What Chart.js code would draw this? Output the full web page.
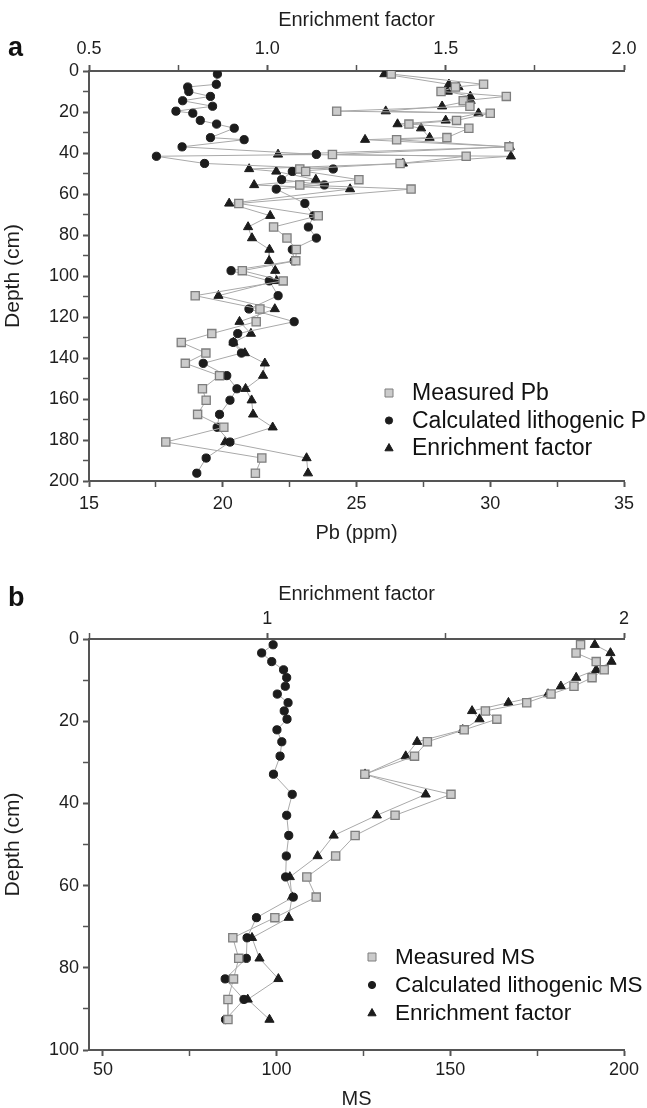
<!DOCTYPE html>
<html>
<head>
<meta charset="utf-8">
<title>Pb and MS depth profiles</title>
<script src="https://cdn.jsdelivr.net/npm/chart.js@4.4.1/dist/chart.umd.min.js"></script>
<style>
  html, body { margin: 0; padding: 0; background: #fff; }
  #wrap { position: relative; width: 647px; height: 1108px; overflow: hidden; }
  #wrap canvas { position: absolute; left: 0; }
  #chartA { top: 0; }
  #chartB { top: 554px; }
  .panel {
    position: absolute; left: 8px;
    font: bold 27px "Liberation Sans", Arial, sans-serif;
    line-height: 27px; color: #111;
  }
</style>
</head>
<body>
<div id="wrap">
  <canvas id="chartA" width="647" height="554"></canvas>
  <canvas id="chartB" width="647" height="557"></canvas>
  <div class="panel" style="top:34px">a</div>
  <div class="panel" style="top:584px">b</div>
</div>
<script>
// ---- Panel a: Pb (ppm) vs depth ----
const depthA = [1.5, 6.5, 7.8, 10, 12.4, 14.5, 17.2, 19.6, 20.6, 24.1, 25.9, 27.9, 32.5, 33.5, 37,
  40.7, 41.6, 45.1, 47.8, 49, 53, 55.6, 57.6, 64.6, 70.6, 76.1, 81.5, 87.1, 92.6, 97.4,
  102.4, 109.6, 116.1, 122.3, 128.1, 132.4, 137.6, 142.6, 148.6, 155, 160.6, 167.5, 173.8, 181, 188.8, 196.2];
const pbMeasured = [26.3, 29.75, 28.7, 28.16, 30.6, 28.99, 29.24, 24.26, 30.0, 28.74, 26.96, 29.2, 28.38, 26.5, 30.7,
  24.1, 29.1, 26.63, 22.88, 23.1, 25.09, 22.88, 27.04, 20.6, 23.57, 21.9, 22.4, 22.75, 22.73, 20.73,
  22.26, 18.97, 21.39, 21.25, 19.59, 18.45, 19.37, 18.6, 19.88, 19.24, 19.38, 19.06, 20.04, 17.87, 21.46, 21.22];
const pbLitho = [19.8, 19.76, 18.69, 18.73, 19.54, 18.5, 19.62, 18.25, 18.88, 19.16, 19.77, 20.43, 19.54, 20.8, 18.48,
  23.5, 17.52, 19.32, 24.13, 22.6, 22.2, 23.8, 22.0, 23.07, 23.4, 23.2, 23.5, 22.6, 22.67, 20.31,
  21.74, 22.07, 20.98, 22.67, 20.56, 20.39, 20.7, 19.27, 20.15, 20.53, 20.27, 19.88, 19.79, 20.27, 19.38, 19.03];
const pbEF = [1.328, 1.509, 1.536, 1.506, 1.569, 1.570, 1.490, 1.332, 1.592, 1.50, 1.365, 1.431, 1.455, 1.274, 1.68,
  1.03, 1.683, 1.38, 0.949, 1.025, 1.136, 0.963, 1.232, 0.893, 1.008, 0.946, 0.957, 1.006, 1.005, 1.022,
  1.026, 0.863, 1.021, 0.922, 0.954, 0.905, 0.937, 0.993, 0.988, 0.939, 0.956, 0.96, 1.015, 0.882, 1.11, 1.114];
const labelsA = ["Measured Pb", "Calculated lithogenic Pb", "Enrichment factor"];

// ---- Panel b: MS vs depth ----
const depthB = [1.4, 3.4, 5.5, 7.5, 9.4, 11.5, 13.4, 15.5, 17.5, 19.5, 22.1, 25.0, 28.5, 32.9, 37.8,
  42.9, 47.8, 52.8, 57.9, 62.8, 67.8, 72.7, 77.7, 82.7, 87.7, 92.6];
const msMeasured = [187.5, 186.2, 192.0, 194.3, 190.8, 185.6, 179.0, 172.0, 160.1, 163.4, 154.0, 143.4, 139.7, 125.4, 150.2,
  134.1, 122.6, 117.0, 108.7, 111.4, 99.5, 87.4, 89.1, 87.6, 86.0, 86.0];
const msLitho = [99.0, 95.7, 98.6, 102.0, 102.9, 102.5, 100.2, 103.3, 102.2, 103.0, 100.1, 101.5, 101.0, 99.1, 104.5,
  102.9, 103.5, 102.8, 102.6, 104.8, 94.2, 91.5, 91.3, 85.2, 90.6, 85.3];
const msEF = [1.918, 1.962, 1.965, 1.922, 1.866, 1.823, 1.787, 1.676, 1.574, 1.595, 1.548, 1.42, 1.388, 1.274, 1.444,
  1.307, 1.186, 1.141, 1.063, 1.069, 1.06, 0.957, 0.978, 1.031, 0.945, 1.006];
const labelsB = ["Measured MS", "Calculated lithogenic MS", "Enrichment factor"];

// ---- Axis ticks (all tick marks / labelled ones) ----
const efTicksA = [0.5, 0.75, 1.0, 1.25, 1.5, 1.75, 2.0];
const efLabelsA = [0.5, 1.0, 1.5, 2.0];
const pbTicks = [15, 17.5, 20, 22.5, 25, 27.5, 30, 32.5, 35];
const pbLabels = [15, 20, 25, 30, 35];
const depthTicksA = [0, 10, 20, 30, 40, 50, 60, 70, 80, 90, 100, 110, 120, 130, 140, 150, 160, 170, 180, 190, 200];
const depthLabelsA = [0, 20, 40, 60, 80, 100, 120, 140, 160, 180, 200];
const efTicksB = [0.5, 1, 1.5, 2];
const efLabelsB = [1, 2];
const msTicks = [50, 75, 100, 125, 150, 175, 200];
const msLabels = [50, 100, 150, 200];
const depthTicksB = [0, 10, 20, 30, 40, 50, 60, 70, 80, 90, 100];
const depthLabelsB = [0, 20, 40, 60, 80, 100];

const fontFamily = '"Liberation Sans", Arial, sans-serif';
const axisColor = "#555";
const textColor = "#1e1e1e";
const lineColor = "#a9a9a9";

// draws the small legend inside the plot, bottom right
const insideLegend = {
  id: "insideLegend",
  afterDraw(chart, args, opts) {
    const ctx = chart.ctx;
    ctx.save();
    ctx.font = opts.fontSize + "px " + fontFamily;
    ctx.textBaseline = "middle";
    chart.data.datasets.forEach((ds, i) => {
      const y = opts.y + i * opts.gap;
      const x = opts.markerX;
      ctx.fillStyle = ds.pointBackgroundColor;
      ctx.strokeStyle = ds.pointBorderColor;
      ctx.lineWidth = 1;
      ctx.beginPath();
      if (ds.pointStyle === "rect") {
        ctx.rect(x - 4, y - 4, 8, 8);
      } else if (ds.pointStyle === "circle") {
        ctx.arc(x, y, 3.6, 0, Math.PI * 2);
      } else {
        ctx.moveTo(x, y - 4.5);
        ctx.lineTo(x + 4.1, y + 2.8);
        ctx.lineTo(x - 4.1, y + 2.8);
        ctx.closePath();
      }
      ctx.fill();
      ctx.stroke();
      ctx.fillStyle = "#111";
      ctx.fillText(ds.label, opts.textX, y + 1);
    });
    ctx.restore();
  }
};

function buildSets(depth, measured, litho, ef, labels) {
  const common = { showLine: true, borderColor: lineColor, borderWidth: 1, tension: 0, yAxisID: "y" };
  return [
    Object.assign({}, common, {
      label: labels[0], xAxisID: "x",
      data: depth.map((d, i) => ({ x: measured[i], y: d })),
      pointStyle: "rect", pointRadius: 5.8,
      pointBackgroundColor: "#cbcbcb", pointBorderColor: "#7e7e7e", pointBorderWidth: 1.3
    }),
    Object.assign({}, common, {
      label: labels[1], xAxisID: "x",
      data: depth.map((d, i) => ({ x: litho[i], y: d })),
      pointStyle: "circle", pointRadius: 4.1,
      pointBackgroundColor: "#1c1c1c", pointBorderColor: "#1c1c1c", pointBorderWidth: 1
    }),
    Object.assign({}, common, {
      label: labels[2], xAxisID: "x2",
      data: depth.map((d, i) => ({ x: ef[i], y: d })),
      pointStyle: "triangle", pointRadius: 5.3,
      pointBackgroundColor: "#1c1c1c", pointBorderColor: "#1c1c1c", pointBorderWidth: 1
    })
  ];
}

function axis(o) {
  return {
    type: "linear",
    position: o.position,
    min: o.min, max: o.max,
    reverse: !!o.reverse,
    afterBuildTicks: s => { s.ticks = o.ticks.map(v => ({ value: v })); },
    afterFit: s => {
      if (s.isHorizontal()) s.height = o.size; else s.width = o.size;
      s.paddingLeft = 0; s.paddingRight = 0; s.paddingTop = 0; s.paddingBottom = 0;
    },
    border: { color: axisColor, width: 2 },
    grid: {
      drawOnChartArea: false, tickLength: 6, tickColor: axisColor,
      tickWidth: c => (c.tick && o.labels.includes(c.tick.value)) ? 2 : 1.5
    },
    ticks: {
      autoSkip: false, maxRotation: 0, padding: o.tickPad, color: textColor,
      font: { family: fontFamily, size: 18 },
      callback: v => o.labels.includes(v) ? (o.decimals ? v.toFixed(o.decimals) : String(v)) : ""
    },
    title: {
      display: true, text: o.title, color: textColor,
      font: { family: fontFamily, size: o.titleSize || 20 }, padding: o.titlePad
    }
  };
}

function makeChart(id, sets, scales, legendOpts) {
  return new Chart(document.getElementById(id), {
    type: "scatter",
    data: { datasets: sets },
    options: {
      responsive: false, animation: false, events: [], devicePixelRatio: 1,
      layout: { padding: { left: 0, right: 23, top: 0, bottom: 0 } },
      plugins: { legend: { display: false }, tooltip: { enabled: false }, insideLegend: legendOpts },
      scales: scales
    },
    plugins: [insideLegend]
  });
}

makeChart("chartA", buildSets(depthA, pbMeasured, pbLitho, pbEF, labelsA), {
  x: axis({ position: "bottom", min: 15, max: 35, ticks: pbTicks, labels: pbLabels, size: 73,
    tickPad: 6, title: "Pb (ppm)", titlePad: { top: 0, bottom: 9 } }),
  x2: axis({ position: "top", min: 0.5, max: 2.0, ticks: efTicksA, labels: efLabelsA, decimals: 1, size: 71,
    tickPad: 5, title: "Enrichment factor", titlePad: { top: 8, bottom: 0 } }),
  y: axis({ position: "left", min: 0, max: 200, reverse: true, ticks: depthTicksA, labels: depthLabelsA, size: 89,
    tickPad: 4, title: "Depth (cm)", titleSize: 21, titlePad: { top: 1, bottom: 0 } })
}, { markerX: 389, textX: 412, y: 393, gap: 27.5, fontSize: 23 });

makeChart("chartB", buildSets(depthB, msMeasured, msLitho, msEF, labelsB), {
  x: axis({ position: "bottom", min: 46, max: 200, ticks: msTicks, labels: msLabels, size: 61,
    tickPad: 3.5, title: "MS", titlePad: { top: 0, bottom: 0 } }),
  x2: axis({ position: "top", min: 0.5, max: 2.0, ticks: efTicksB, labels: efLabelsB, size: 85,
    tickPad: 3.5, title: "Enrichment factor", titlePad: { top: 28, bottom: 0 } }),
  y: axis({ position: "left", min: 0, max: 100, reverse: true, ticks: depthTicksB, labels: depthLabelsB, size: 89,
    tickPad: 4, title: "Depth (cm)", titleSize: 21, titlePad: { top: 1, bottom: 0 } })
}, { markerX: 372, textX: 395, y: 403, gap: 28, fontSize: 22.5 });
</script>
</body>
</html>
